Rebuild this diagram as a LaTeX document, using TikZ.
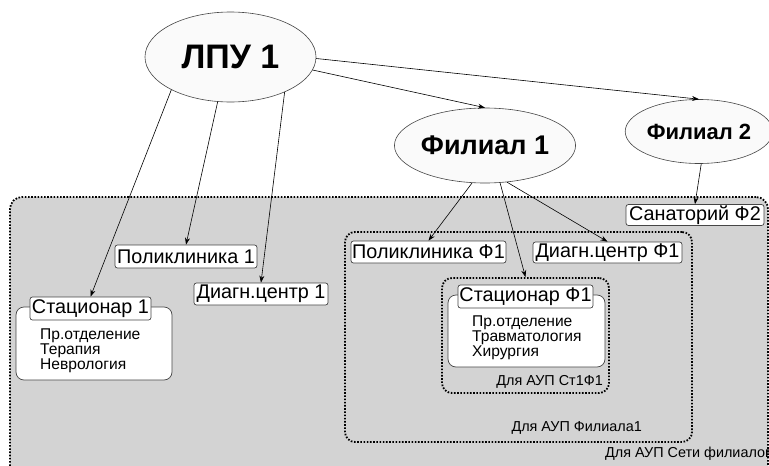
\documentclass[tikz,border=0pt]{standalone}
\usepackage{fontspec}
\setmainfont{Liberation Sans}
\usetikzlibrary{arrows.meta,shapes.geometric}
\definecolor{areagray}{RGB}{211,211,211}
\definecolor{hubfill}{RGB}{250,250,250}
\definecolor{edgegray}{RGB}{70,70,70}
\tikzset{
  hub/.style={ellipse, draw=edgegray, fill=hubfill, line width=0.6pt, inner sep=0pt, font=\bfseries},
  unitbox/.style={draw=edgegray, fill=white, rounded corners=2.5pt, line width=0.7pt,
    inner sep=0pt, font=\fontsize{19.8}{19.8}\selectfont},
  bodybox/.style={draw=edgegray, fill=white, rounded corners=8pt, line width=0.7pt, inner sep=0pt},
  area/.style={draw=black, fill=areagray, rounded corners=12pt, line width=1.8pt,
    dash pattern=on 1.6pt off 1.6pt, inner sep=0pt},
  subarea/.style={draw=black, rounded corners=10pt, line width=1.8pt,
    dash pattern=on 1.6pt off 1.6pt, inner sep=0pt},
  listtext/.style={anchor=north west, align=left, inner sep=0pt,
    font=\fontsize{15.6}{15}\selectfont},
  areatext/.style={inner sep=0pt, font=\fontsize{14.4}{14.4}\selectfont},
  link/.style={draw=black, line width=0.6pt, -{Stealth[length=7pt,width=5pt]}}
}
\begin{document}
\begin{tikzpicture}[x=1pt,y=-1pt]
\useasboundingbox (0,0) rectangle (769,466);
\fill[white] (0,0) rectangle (769,466);

% grey network area and its nested dotted frames
\node[area, minimum width=758pt, minimum height=281pt] (net) at (389,337.5) {};
\node[subarea, minimum width=347pt, minimum height=210pt] (fil1area) at (518.5,337) {};
\node[subarea, minimum width=167pt, minimum height=115pt] (st1f1) at (525.5,335.5) {};

% top-level organisations
\node[hub, minimum width=171pt, minimum height=90pt, font=\bfseries\fontsize{34}{34}\selectfont] (lpu) at (230.5,57) {ЛПУ 1};
\node[hub, minimum width=164pt, minimum height=75pt, font=\bfseries\fontsize{27}{27}\selectfont] (fil1) at (485,145.5) {Филиал 1};
\node[hub, minimum width=124pt, minimum height=64pt, font=\bfseries\fontsize{22}{22}\selectfont] (fil2) at (699,131.5) {Филиал 2};

% units of the main hospital
\node[unitbox, minimum width=142pt, minimum height=23pt] (pol1) at (186,256.5) {Поликлиника 1};
\node[unitbox, minimum width=134pt, minimum height=22pt] (diag1) at (261,294) {Диагн.центр 1};
\node[bodybox, minimum width=156pt, minimum height=73pt] (stat1body) at (94,343.5) {};
\node[unitbox, minimum width=121pt, minimum height=23pt] (stat1) at (90.5,308.5) {Стационар 1};
\node[listtext] (stat1list) at (40,328.5) {Пр.отделение\\Терапия\\Неврология};

% units of branch 1
\node[unitbox, minimum width=155pt, minimum height=22pt] (polf1) at (428.5,252) {Поликлиника Ф1};
\node[unitbox, minimum width=149pt, minimum height=21pt] (diagf1) at (607.5,252.5) {Диагн.центр Ф1};
\node[bodybox, minimum width=157pt, minimum height=72pt] (statf1body) at (526.5,331) {};
\node[unitbox, minimum width=135pt, minimum height=23pt] (statf1) at (525.5,296.5) {Стационар Ф1};
\node[listtext] (statf1list) at (472,315.5) {Пр.отделение\\Травматология\\Хирургия};

% unit of branch 2
\node[unitbox, minimum width=138pt, minimum height=21pt] (san2) at (695,215) {Санаторий Ф2};

% frame captions
\node[areatext, anchor=east] (capst) at (603,382) {Для АУП Ст1Ф1};
\node[areatext, anchor=east] (capfil) at (642,428) {Для АУП Филиала1};
\node[areatext, anchor=west] (capnet) at (605,454) {Для АУП Сети филиалов};

% subordination links
\draw[link] (lpu.209) -- (stat1.north);
\draw[link] (lpu.254) -- (pol1.north);
\draw[link] (lpu.327) -- (diag1.north);
\draw[link] (lpu.351) -- (fil1.north);
\draw[link] (lpu.359) -- (fil2.north);
\draw[link] (fil1.251) -- (polf1.north);
\draw[link] (fil1.292) -- (st1f1.north);
\draw[link] (fil1.301) -- (diagf1.north);
\draw[link] (fil2.274) -- (san2.north);
\end{tikzpicture}
\end{document}
